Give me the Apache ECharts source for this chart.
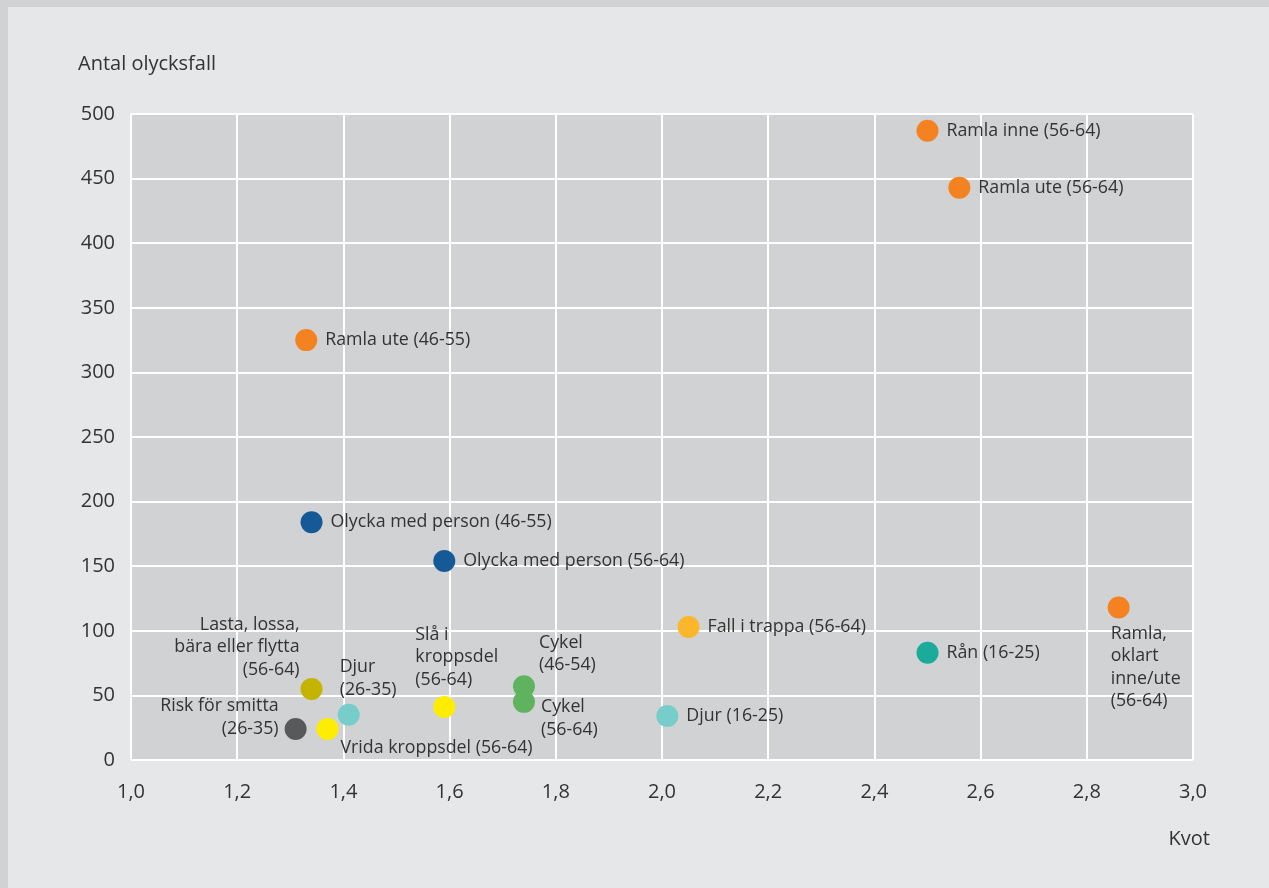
<!DOCTYPE html>
<html>
<head>
<meta charset="utf-8">
<script src="https://cdn.jsdelivr.net/npm/echarts@6/dist/echarts.min.js"></script>
<style>
  html, body { margin: 0; padding: 0; background: #d1d2d4; width: 1269px; height: 888px; overflow: hidden; }
  #bg { position: absolute; left: 8px; top: 7px; right: 0; bottom: 0; background: #e6e7e8; }
  #chart { position: absolute; left: 0; top: 0; width: 1269px; height: 888px; }
</style>
</head>
<body>
<div id="bg"></div>
<div id="chart"></div>
<script>
// ---- data ----
const labels = [
  'Ramla inne (56-64)',
  'Ramla ute (56-64)',
  'Ramla ute (46-55)',
  'Olycka med person (46-55)',
  'Olycka med person (56-64)',
  'Fall i trappa (56-64)',
  'Rån (16-25)',
  'Ramla,\noklart\ninne/ute\n(56-64)',
  'Lasta, lossa,\nbära eller flytta\n(56-64)',
  'Djur\n(26-35)',
  'Risk för smitta\n(26-35)',
  'Vrida kroppsdel (56-64)',
  'Slå i\nkroppsdel\n(56-64)',
  'Cykel\n(46-54)',
  'Cykel\n(56-64)',
  'Djur (16-25)'
];
const kvot  = [2.50, 2.56, 1.33, 1.34, 1.59, 2.05, 2.50, 2.86, 1.34, 1.41, 1.31, 1.37, 1.59, 1.74, 1.74, 2.01];
const antal = [487, 443, 325, 184, 154, 103, 83, 118, 55, 35, 24, 24, 41, 57, 45, 34];
const xTicks = ['1,0','1,2','1,4','1,6','1,8','2,0','2,2','2,4','2,6','2,8','3,0'];

// ---- styles ----
const colors = ['#f58220','#f58220','#f58220','#155a96','#155a96','#fbb62b','#1aab9b','#f58220',
                '#c4b300','#76cdc9','#58595b','#ffed00','#ffed00','#5fb35f','#5fb35f','#76cdc9'];
const R = 11;
// label placement: null => right of point; else [dx, dy, align, verticalAlign] relative to centre
const place = [null, null, null, null, null, null, null,
  [-8, 15, 'left', 'top'],
  [-12, -8, 'right', 'bottom'],
  [-9, -14, 'left', 'bottom'],
  [-17, 11, 'right', 'bottom'],
  [13, 8, 'left', 'top'],
  [-29, -16, 'left', 'bottom'],
  [15, -10, 'left', 'bottom'],
  [17, -6, 'left', 'top'],
  null];

const FONT = '"Open Sans", "Noto Sans", sans-serif';
const data = kvot.map((x, i) => {
  const p = place[i];
  const label = p ? {
    position: [R + p[0], R + p[1]], align: p[2], verticalAlign: p[3]
  } : { position: 'right', distance: 8 };
  return {
    value: [x, antal[i]],
    name: labels[i],
    itemStyle: { color: colors[i], opacity: 1 },
    label: label
  };
});

const chart = echarts.init(document.getElementById('chart'));
chart.setOption({
  animation: false,
  textStyle: { fontFamily: FONT },
  title: [
    { text: 'Antal olycksfall', left: 73, top: 49,
      textStyle: { fontSize: 20, fontWeight: 'normal', color: '#333', fontFamily: FONT } },
    { text: 'Kvot', right: 54, top: 824,
      textStyle: { fontSize: 20, fontWeight: 'normal', color: '#333', fontFamily: FONT } }
  ],
  grid: { left: 131, right: 76, top: 114, bottom: 128, show: true,
          backgroundColor: '#d1d2d4', borderWidth: 0 },
  xAxis: {
    type: 'value', min: 1, max: 3, interval: 0.2,
    axisLine: { show: false }, axisTick: { show: false },
    axisLabel: { fontSize: 20, color: '#333', margin: 22,
      formatter: v => xTicks[Math.round((v - 1) / 0.2)] },
    splitLine: { lineStyle: { color: '#ffffff', width: 2 } }
  },
  yAxis: {
    type: 'value', min: 0, max: 500, interval: 50,
    axisLine: { show: false }, axisTick: { show: false },
    axisLabel: { fontSize: 20, color: '#333', margin: 16 },
    splitLine: { lineStyle: { color: '#ffffff', width: 2 } }
  },
  series: [{
    type: 'scatter',
    symbolSize: 2 * R,
    data: data,
    label: { show: true, formatter: '{b}', fontSize: 17.8, lineHeight: 22.5, color: '#333', fontFamily: FONT },
    emphasis: { disabled: true }
  }]
});
</script>
</body>
</html>
